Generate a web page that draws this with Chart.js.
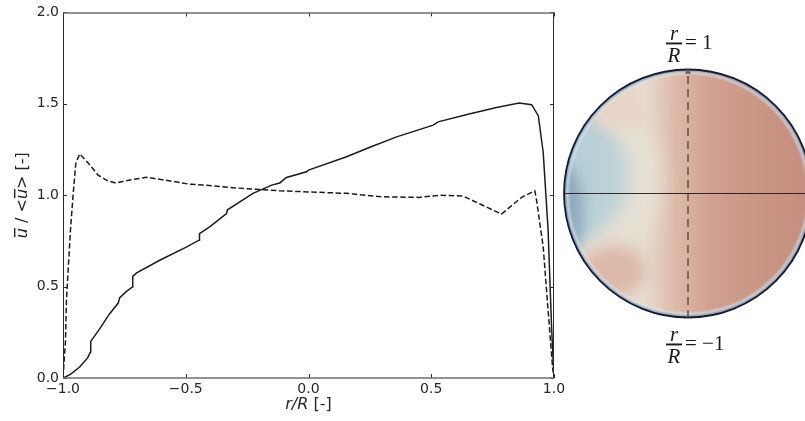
<!DOCTYPE html>
<html>
<head>
<meta charset="utf-8">
<script src="https://cdn.jsdelivr.net/npm/chart.js@4.4.1/dist/chart.umd.min.js"></script>
<style>
  html, body { margin: 0; padding: 0; background: #fff; overflow: hidden; }
  #wrap { position: relative; width: 805px; height: 421px; }
  #profile { position: absolute; left: 0; top: 0; }
  #section { position: absolute; left: 540px; top: 20px; }
</style>
</head>
<body>
<div id="wrap">
  <canvas id="profile" width="575" height="421"></canvas>
  <canvas id="section" width="300" height="360"></canvas>
</div>
<script>
// mean axial velocity along the vertical diameter (solid)
const meanX = [-1.0, -0.97, -0.932, -0.9, -0.888, -0.887, -0.85, -0.81, -0.775, -0.769, -0.74, -0.717, -0.716, -0.7,
  -0.606, -0.5, -0.446, -0.444, -0.4, -0.334, -0.33, -0.226, -0.15, -0.117, -0.09, -0.008, 0.0, 0.155, 0.25, 0.359,
  0.508, 0.528, 0.65, 0.766, 0.858, 0.909, 0.936, 0.956, 0.976, 0.99, 1.0];
const meanY = [0.0, 0.02, 0.06, 0.11, 0.142, 0.2, 0.27, 0.352, 0.41, 0.44, 0.475, 0.498, 0.556, 0.575,
  0.644, 0.715, 0.754, 0.79, 0.83, 0.9, 0.92, 1.01, 1.055, 1.067, 1.097, 1.128, 1.137, 1.21, 1.262, 1.319,
  1.383, 1.401, 1.443, 1.48, 1.504, 1.495, 1.435, 1.235, 0.81, 0.28, 0.0];

// same quantity along the horizontal diameter (dashed)
const horizX = [-1.0, -0.99, -0.986, -0.97, -0.959, -0.948, -0.932, -0.9, -0.857, -0.82, -0.785, -0.72, -0.66, -0.55,
  -0.484, -0.416, -0.3, -0.117, 0.155, 0.304, 0.45, 0.535, 0.63, 0.786, 0.87, 0.922, 0.929, 0.956, 0.976, 0.994, 1.0];
const horizY = [0.0, 0.2, 0.425, 0.8, 1.0, 1.173, 1.226, 1.18, 1.11, 1.08, 1.067, 1.085, 1.098, 1.075,
  1.06, 1.055, 1.04, 1.024, 1.01, 0.991, 0.988, 1.0, 0.995, 0.897, 0.99, 1.024, 0.972, 0.717, 0.37, 0.06, 0.0];

const xTicks = [-1.0, -0.5, 0.0, 0.5, 1.0];
const yTicks = [0.0, 0.5, 1.0, 1.5, 2.0];

const pts = (xs, ys) => xs.map((v, i) => ({ x: v, y: ys[i] }));
const fmt = v => v.toFixed(1).replace('-', '\u2212');
const txt = '#262626';
const tickFont = { family: 'DejaVu Sans', size: 14 };

// matplotlib-style frame with inward ticks on all four sides, plus mixed italic axis titles
const framePlugin = {
  id: 'frame',
  afterDraw(chart) {
    const { ctx, chartArea: a, scales: { x, y } } = chart;
    ctx.save();
    ctx.lineWidth = 1;
    ctx.strokeStyle = '#2b2b2b';
    ctx.beginPath();
    xTicks.forEach(v => {
      const px = Math.round(x.getPixelForValue(v)) + 0.5;
      ctx.moveTo(px, a.bottom); ctx.lineTo(px, a.bottom - 4);
      ctx.moveTo(px, a.top); ctx.lineTo(px, a.top + 4);
    });
    yTicks.forEach(v => {
      const py = Math.round(y.getPixelForValue(v)) + 0.5;
      ctx.moveTo(a.left, py); ctx.lineTo(a.left + 4, py);
      ctx.moveTo(a.right, py); ctx.lineTo(a.right - 4, py);
    });
    ctx.stroke();
    ctx.beginPath();
    ctx.moveTo(a.left + 0.5, a.top); ctx.lineTo(a.left + 0.5, a.bottom);
    ctx.moveTo(a.right - 0.5, a.top); ctx.lineTo(a.right - 0.5, a.bottom);
    ctx.stroke();
    ctx.strokeStyle = '#6f6f6f';
    ctx.lineWidth = 1.5;
    ctx.beginPath();
    ctx.moveTo(a.left, a.top + 0.5); ctx.lineTo(a.right, a.top + 0.5);
    ctx.moveTo(a.left, a.bottom); ctx.lineTo(a.right, a.bottom);
    ctx.stroke();

    // x title: r/R [-]
    const it = 'italic 16px "DejaVu Sans"', up = '16px "DejaVu Sans"';
    ctx.fillStyle = txt;
    ctx.textBaseline = 'alphabetic';
    ctx.textAlign = 'left';
    const parts = [['r/R', it], [' [-]', up]];
    const width = list => list.reduce((s, [t, f]) => { ctx.font = f; return s + ctx.measureText(t).width; }, 0);
    let cx = (a.left + a.right) / 2 - width(parts) / 2;
    parts.forEach(([t, f]) => { ctx.font = f; ctx.fillText(t, cx, 409); cx += ctx.measureText(t).width; });

    // y title: u-bar / <u-bar> [-]
    ctx.translate(27, (a.top + a.bottom) / 2);
    ctx.rotate(-Math.PI / 2);
    const yParts = [['u', it, true], [' / <', up], ['u', it, true], ['> [-]', up]];
    let cy = -width(yParts) / 2;
    yParts.forEach(([t, f, bar]) => {
      ctx.font = f;
      const w = ctx.measureText(t).width;
      ctx.fillText(t, cy, 0);
      if (bar) ctx.fillRect(cy + 1, -13, w - 1, 1.4);
      cy += w;
    });
    ctx.restore();
  }
};

new Chart(document.getElementById('profile'), {
  type: 'scatter',
  data: {
    datasets: [
      { data: pts(meanX, meanY), showLine: true, borderColor: '#1c1c1c', borderWidth: 1.5, pointRadius: 0, tension: 0 },
      { data: pts(horizX, horizY), showLine: true, borderColor: '#1c1c1c', borderWidth: 1.5, pointRadius: 0, tension: 0,
        borderDash: [5.5, 2.6] }
    ]
  },
  options: {
    responsive: false,
    animation: false,
    layout: { padding: { top: 12, right: 21, left: 0, bottom: 0 } },
    plugins: { legend: { display: false }, tooltip: { enabled: false } },
    scales: {
      x: {
        type: 'linear', min: -1, max: 1,
        afterBuildTicks: s => { s.ticks = xTicks.map(v => ({ value: v })); },
        afterFit: s => { s.height = 43; },
        grid: { display: false, drawTicks: false }, border: { display: false },
        ticks: { color: txt, font: tickFont, padding: 3, maxRotation: 0, callback: fmt }
      },
      y: {
        type: 'linear', min: 0, max: 2,
        afterBuildTicks: s => { s.ticks = yTicks.map(v => ({ value: v })); },
        afterFit: s => { s.width = 63; },
        grid: { display: false, drawTicks: false }, border: { display: false },
        ticks: { color: txt, font: tickFont, padding: 4, callback: fmt }
      }
    }
  },
  plugins: [framePlugin]
});

// cross-section: diameters used for the two profiles
const vertX = [0, 0];
const vertY = [-1, 0.975];
const horX = [-1, 1];
const horY = [0, 0];

// contour of the axial velocity inside the pipe section
const sectionPlugin = {
  id: 'section',
  beforeDatasetsDraw(chart) {
    const { ctx, scales: { x, y } } = chart;
    const cx = x.getPixelForValue(0), cy = y.getPixelForValue(0);
    const R = (x.getPixelForValue(1) - x.getPixelForValue(-1)) / 2;
    const P = (u, v) => [x.getPixelForValue(u), y.getPixelForValue(v)];
    ctx.save();
    ctx.beginPath();
    ctx.arc(cx, cy, R, 0, Math.PI * 2);
    ctx.clip();

    const g = ctx.createLinearGradient(cx - R, 0, cx + R, 0);
    g.addColorStop(0.0, '#dfc8bb');
    g.addColorStop(0.25, '#e6d8cb');
    g.addColorStop(0.32, '#e8ddd0');
    g.addColorStop(0.45, '#dcbaa9');
    g.addColorStop(0.6, '#d09f8f');
    g.addColorStop(0.8, '#c99585');
    g.addColorStop(1.0, '#c58d80');
    ctx.fillStyle = g;
    ctx.fillRect(cx - R, cy - R, 2 * R, 2 * R);

    const blob = (u, v, rx, ry, color, blur) => {
      const [px, py] = P(u, v);
      ctx.filter = `blur(${blur}px)`;
      ctx.fillStyle = color;
      ctx.beginPath();
      ctx.ellipse(px, py, rx * R, ry * R, 0, 0, Math.PI * 2);
      ctx.fill();
    };
    // cream halo, then the slow bluish core on the left
    blob(-0.8, 0.1, 0.58, 0.66, '#e7e0d5', 10);
    blob(-0.98, 0.14, 0.5, 0.52, '#bdd2d7', 9);
    blob(-1.0, 0.25, 0.3, 0.72, '#b7cfd6', 8);
    blob(-1.02, -0.15, 0.18, 0.4, '#90acbe', 6);
    // pinkish lobes above and below the core
    blob(-0.55, 0.66, 0.24, 0.14, '#e8d4c8', 8);
    blob(-0.6, -0.62, 0.26, 0.2, '#dcb8a8', 8);
    ctx.filter = 'none';

    // wall boundary layer
    ctx.filter = 'blur(1px)';
    ctx.lineWidth = 4;
    ctx.strokeStyle = 'rgba(222,232,236,0.75)';
    ctx.beginPath(); ctx.arc(cx, cy, R - 2.5, 0, Math.PI * 2); ctx.stroke();
    ctx.lineWidth = 2;
    ctx.strokeStyle = 'rgba(85,120,160,0.85)';
    ctx.beginPath(); ctx.arc(cx, cy, R - 0.8, 0, Math.PI * 2); ctx.stroke();
    ctx.filter = 'none';
    ctx.restore();

    ctx.save();
    ctx.lineWidth = 1.8;
    ctx.strokeStyle = '#151c33';
    ctx.beginPath(); ctx.arc(cx, cy, R, 0, Math.PI * 2); ctx.stroke();
    ctx.restore();
  },
  afterDraw(chart) {
    const { ctx, scales: { x, y } } = chart;
    const cx = x.getPixelForValue(0);
    const top = y.getPixelForValue(1), bot = y.getPixelForValue(-1);
    ctx.save();
    ctx.fillStyle = '#1a1a1a';
    const label = (midY, rhs) => {
      const fx = cx - 14;
      ctx.font = 'italic 21px "Liberation Serif"';
      ctx.textAlign = 'center';
      ctx.textBaseline = 'alphabetic';
      ctx.fillText('r', fx, midY - 4);
      ctx.fillText('R', fx, midY + 18);
      ctx.fillRect(fx - 8, midY - 1, 16, 1.9);
      ctx.font = '21px "Liberation Serif"';
      ctx.textAlign = 'left';
      ctx.textBaseline = 'middle';
      ctx.fillText(rhs, fx + 11, midY);
    };
    label(top - 25.5, '= 1');
    label(bot + 26.5, '= \u22121');
    ctx.restore();
  }
};

new Chart(document.getElementById('section'), {
  type: 'scatter',
  data: {
    datasets: [
      { data: pts(horX, horY), showLine: true, borderColor: 'rgba(30,22,26,0.9)', borderWidth: 1.2, pointRadius: 0 },
      { data: pts(vertX, vertY), showLine: true, borderColor: '#5a3c37', borderWidth: 1.3, borderDash: [8, 5],
        pointRadius: [0, 3.5], pointStyle: 'triangle', pointBackgroundColor: '#6e5a56', pointBorderWidth: 0 }
    ]
  },
  options: {
    responsive: false,
    animation: false,
    layout: { padding: { left: 24, right: 28, top: 49, bottom: 62 } },
    plugins: { legend: { display: false }, tooltip: { enabled: false } },
    scales: {
      x: { type: 'linear', min: -1, max: 1, display: false },
      y: { type: 'linear', min: -1, max: 1, display: false }
    }
  },
  plugins: [sectionPlugin]
});
</script>
</body>
</html>
